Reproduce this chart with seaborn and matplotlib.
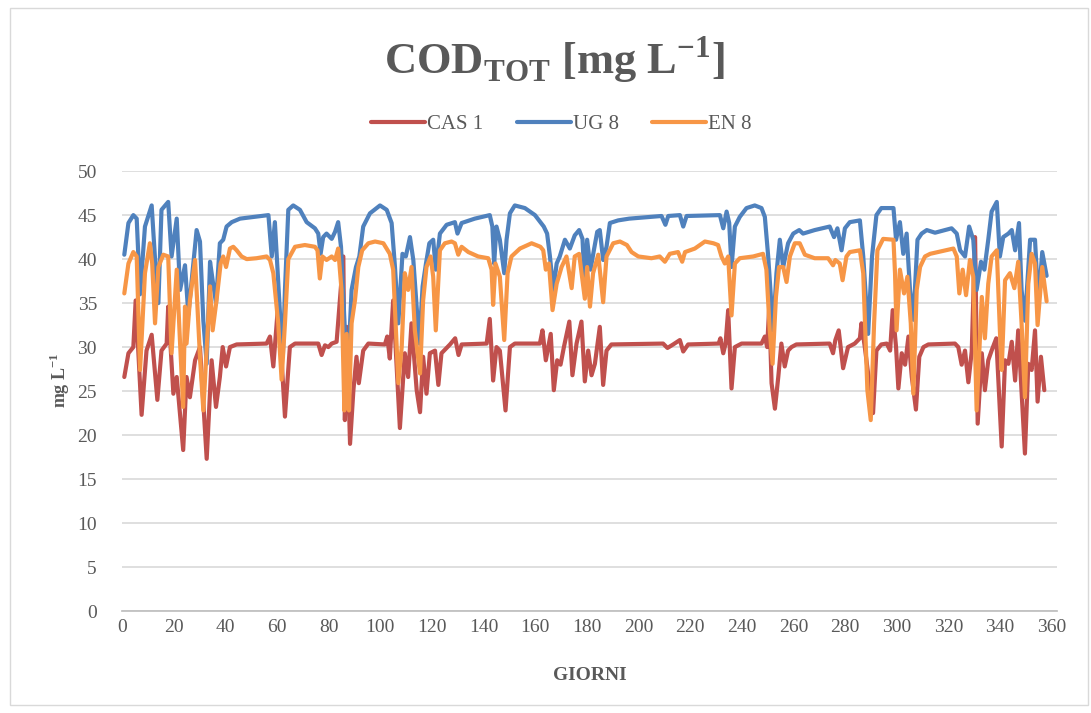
"""COD totale: CAS 1, UG 8, EN 8 nel corso dell'anno."""
import matplotlib

matplotlib.use("Agg")
import matplotlib.pyplot as plt
import pandas as pd
import seaborn as sns
from matplotlib.patches import Rectangle

# valori (giorno, mg/L)
cas1_giorni = [
    0.9, 2.5, 4.4, 5.3, 7.6, 9.5, 11.5, 13.7, 15.3, 17.3, 17.9, 19.9, 21.2, 23.7,
    25.0, 26.3, 28.3, 30.2, 32.8, 34.7, 36.4, 37.9, 39.0, 40.3, 41.8, 44.4, 56.0,
    57.3, 58.6, 60.5, 63.1, 65.0, 67.0, 76.0, 77.3, 78.6, 79.9, 81.2, 83.1, 85.7,
    86.3, 87.0, 88.3, 89.6, 90.8, 91.7, 93.4, 95.4, 101.8, 102.7, 103.7, 105.0,
    107.6, 109.5, 110.8, 112.1, 114.1, 115.4, 116.6, 117.9, 119.2, 121.2, 122.5,
    123.7, 127.0, 129.0, 130.3, 131.5, 141.2, 142.4, 143.7, 145.0, 146.3, 148.5,
    150.2, 152.1, 161.8, 162.8, 164.1, 166.0, 167.2, 168.5, 169.8, 171.1, 173.2,
    174.4, 176.0, 177.9, 179.2, 180.5, 181.8, 183.1, 185.0, 186.3, 187.6, 189.5,
    209.5, 211.2, 213.4, 216.0, 217.3, 219.2, 231.0, 231.7, 232.8, 233.7, 234.7,
    236.0, 237.3, 239.9, 247.6, 248.9, 249.8, 250.6, 251.5, 252.8, 254.1, 255.3,
    256.6, 257.9, 259.2, 261.1, 274.0, 275.3, 276.2, 277.5, 279.2, 281.1, 283.7,
    285.7, 286.3, 287.6, 290.8, 292.1, 294.0, 296.1, 297.4, 298.4, 299.7, 300.6,
    301.9, 303.2, 304.5, 305.8, 307.4, 308.7, 310.3, 312.2, 322.5, 323.8, 325.1,
    326.4, 327.7, 329.0, 330.3, 331.3, 332.9, 334.1, 335.4, 336.7, 338.5, 340.6,
    341.9, 343.2, 344.5, 345.8, 347.0, 349.6, 350.9, 352.2, 353.5, 354.5, 355.8,
    357.1,
]
cas1_valori = [
    26.6, 29.3, 30.0, 35.3, 22.3, 29.6, 31.4, 24.0, 29.6, 30.4, 34.6, 24.7, 26.6, 18.3,
    26.6, 24.3, 28.5, 30.0, 17.3, 28.5, 23.2, 26.6, 30.0, 27.8, 30.0, 30.3, 30.4,
    31.2, 27.8, 35.0, 22.1, 30.0, 30.4, 30.4, 29.1, 30.2, 30.0, 30.4, 30.6, 40.3,
    21.7, 32.3, 19.0, 25.1, 28.9, 25.9, 29.6, 30.4, 30.3, 31.2, 28.7, 35.3,
    20.8, 29.3, 26.6, 32.7, 25.1, 22.6, 28.9, 24.7, 29.3, 29.6, 25.7,
    29.3, 30.3, 31.0, 29.1, 30.3, 30.4, 33.2, 26.2, 30.0, 29.6, 22.8,
    30.0, 30.4, 30.4, 31.9, 28.5, 31.5, 25.1, 28.5, 28.0, 30.0, 32.9,
    26.8, 30.4, 32.9, 26.1, 29.6, 26.8, 28.1, 32.3, 25.7, 29.6, 30.3,
    30.4, 29.9, 30.3, 30.8, 29.5, 30.3, 30.4, 31.0, 29.3, 30.4, 34.2,
    25.3, 30.0, 30.4, 30.4, 31.2, 30.0, 34.6, 25.9, 23.0, 26.6, 30.4,
    27.8, 29.6, 30.0, 30.3, 30.4, 29.3, 30.8, 31.9, 27.6, 30.0, 30.4,
    31.0, 32.7, 30.0, 22.5, 29.6, 30.3, 30.4, 29.6, 34.2, 30.0, 25.3,
    29.3, 28.0, 31.2, 26.6, 22.9, 28.9, 30.0, 30.3, 30.4, 30.0, 28.0,
    29.6, 26.0, 29.5, 42.5, 21.3, 29.3, 25.1, 28.5, 29.6, 31.0, 18.7,
    28.5, 28.1, 30.6, 26.2, 31.9, 17.9, 28.1, 27.4, 31.9, 23.8, 28.9,
    25.1,
]

ug8_giorni = [
    0.9, 2.5, 4.4, 5.7, 7.0, 8.9, 11.5, 12.8, 14.1, 15.3, 17.9, 19.2, 21.2, 22.5,
    24.4, 25.7, 28.9, 30.2, 31.5, 32.8, 34.1, 35.1, 36.4, 37.9, 39.2, 40.5, 42.5,
    45.7, 56.7, 58.0, 59.2, 61.2, 62.3, 63.1, 64.4, 66.3, 68.9, 71.5, 74.7, 76.0,
    76.9, 77.9, 79.2, 81.2, 82.5, 83.7, 84.8, 86.3, 87.6, 88.9, 90.6, 91.9, 93.4,
    96.0, 99.9, 102.5, 104.4, 105.7, 107.0, 108.6, 109.9, 111.5, 112.8, 114.1,
    115.1, 116.4, 117.7, 119.0, 120.5, 121.5, 123.1, 125.7, 128.9, 129.9, 131.5,
    136.6, 142.4, 143.4, 144.1, 145.0, 146.3, 148.0, 148.9, 150.2, 152.1, 156.0,
    159.9, 162.0, 163.3, 164.6, 165.7, 167.0, 168.3, 169.5, 171.5, 173.4, 175.3,
    177.0, 178.3, 179.2, 180.1, 181.4, 182.7, 184.0, 185.0, 186.3, 187.6, 188.9,
    192.1, 196.4, 208.9, 210.4, 211.5, 216.0, 217.3, 218.6, 231.5, 232.8, 234.1,
    235.1, 236.0, 237.3, 239.2, 241.8, 245.0, 247.6, 248.9, 250.2, 252.1, 253.4,
    254.7, 256.0, 257.9, 259.9, 262.2, 263.7, 268.2, 274.0, 275.7, 277.0, 278.6,
    279.9, 281.8, 285.7, 287.0, 288.9, 290.4, 292.1, 294.0, 298.7, 299.7, 301.2,
    302.5, 303.8, 305.1, 306.4, 308.0, 309.6, 311.6, 314.8, 321.2, 323.2, 324.5,
    326.4, 328.0, 329.6, 330.9, 332.6, 333.9, 335.4, 336.7, 338.7, 339.9, 341.2,
    343.2, 344.5, 345.8, 347.3, 348.3, 349.6, 351.6, 353.5, 354.8, 356.3, 358.0,
]
ug8_valori = [
    40.5, 44.1, 45.0, 44.6, 36.0, 43.7, 46.1, 40.0, 35.0, 45.6, 46.5, 40.3, 44.6, 36.5,
    39.3, 33.7, 43.3, 42.0, 33.0, 28.1, 39.7, 37.6, 35.0, 41.8, 42.2, 43.7, 44.2,
    44.6, 45.0, 40.3, 44.2, 33.7, 29.0, 36.5, 45.6, 46.1, 45.6, 44.2, 43.5, 42.9,
    40.6, 42.5, 42.9, 42.3, 43.1, 44.2, 41.4, 31.9, 28.1, 36.5, 39.1, 40.3, 43.7,
    45.2, 46.1, 45.6, 44.1, 39.1, 32.7, 40.6, 40.3, 42.5, 39.9, 34.6,
    30.4, 36.9, 39.5, 41.8, 42.2, 38.8, 42.9, 43.9, 44.2, 42.9, 44.1,
    44.6, 45.0, 43.7, 39.5, 43.7, 42.2, 38.4, 42.2, 45.2, 46.1, 45.8,
    45.0, 44.2, 43.7, 42.9, 40.3, 36.5, 39.5, 40.3, 42.2, 41.2, 42.7,
    43.3, 42.3, 36.9, 42.2, 38.8, 41.0, 43.1, 43.3, 39.9, 41.4, 44.1,
    44.4, 44.6, 44.9, 43.9, 44.9, 45.0, 43.7, 44.9, 45.0, 43.5, 45.4,
    44.1, 39.1, 43.7, 44.8, 45.8, 46.1, 45.8, 44.8, 40.3, 31.9, 38.4,
    42.2, 39.1, 41.8, 42.9, 43.3, 42.9, 43.3, 43.7, 42.5, 43.5, 41.0,
    43.5, 44.2, 44.4, 40.3, 31.5, 40.3, 45.0, 45.8, 45.8, 42.2, 44.2,
    40.6, 42.9, 36.5, 33.1, 42.2, 42.9, 43.3, 43.0, 43.5, 42.9, 41.0,
    40.3, 43.7, 42.2, 36.5, 39.7, 38.8, 42.2, 45.4, 46.5, 40.3, 42.5,
    42.9, 43.3, 41.0, 44.1, 36.5, 33.0, 42.2, 42.2, 35.0, 40.8, 38.1,
]

en8_giorni = [
    0.9, 2.5, 4.4, 5.7, 7.0, 8.9, 10.8, 11.7, 12.8, 14.1, 16.0, 17.9, 19.2, 21.2,
    22.5, 23.7, 24.4, 25.0, 26.3, 28.3, 30.2, 31.5, 34.1, 35.1, 36.6, 38.2, 39.2,
    40.3, 41.8, 43.1, 44.4, 46.3, 48.3, 52.1, 56.0, 57.3, 58.6, 60.5, 61.8, 63.1,
    64.4, 67.0, 70.8, 74.7, 75.7, 76.6, 77.6, 79.2, 81.2, 82.5, 83.7, 85.0, 86.1,
    87.0, 87.9, 88.9, 90.2, 91.5, 93.0, 95.4, 98.0, 101.2, 103.7, 105.0, 107.0,
    108.3, 109.5, 110.8, 112.1, 113.4, 115.4, 116.6, 117.9, 119.5, 120.5, 121.5,
    123.1, 125.0, 127.6, 128.9, 130.2, 131.5, 134.1, 137.9, 141.8, 143.1, 143.7,
    144.6, 146.3, 148.0, 149.3, 150.8, 154.1, 158.6, 162.0, 163.1, 164.1, 165.3,
    166.7, 168.3, 170.2, 172.1, 174.1, 175.3, 177.0, 179.2, 180.1, 181.2, 182.4,
    184.4, 186.3, 187.6, 190.2, 192.8, 195.5, 197.3, 199.9, 205.0, 208.2, 210.2,
    212.1, 215.3, 216.9, 218.0, 221.8, 225.7, 229.0, 230.8, 232.1, 233.4, 234.7,
    236.0, 237.3, 239.2, 244.4, 248.2, 249.5, 250.8, 251.9, 253.2, 254.4, 256.0,
    257.3, 258.6, 260.5, 262.4, 264.4, 268.2, 273.4, 275.3, 276.2, 277.9, 279.0,
    280.5, 281.8, 285.7, 287.0, 288.6, 289.9, 291.2, 292.5, 294.7, 298.7, 299.3,
    299.9, 301.2, 302.8, 304.1, 305.4, 306.4, 307.7, 309.0, 310.9, 312.9, 321.9,
    323.2, 324.2, 325.5, 326.8, 328.3, 329.6, 330.9, 332.9, 334.1, 335.4, 336.7,
    338.7, 339.9, 340.6, 341.9, 343.8, 345.5, 347.0, 348.3, 349.6, 350.9, 352.2,
    353.5, 354.5, 356.3, 358.0,
]
en8_valori = [
    36.1, 39.5, 40.8, 40.3, 27.4, 38.4, 41.8, 39.5, 32.7, 39.1, 40.5, 40.3, 29.3, 38.8,
    30.4, 23.2, 34.6, 30.4, 35.3, 39.9, 28.9, 22.8, 36.9, 31.9, 35.3, 39.5, 40.3,
    39.1, 41.2, 41.4, 41.0, 40.3, 40.0, 40.1, 40.3, 39.9, 38.4, 32.7, 26.3, 32.7,
    40.0, 41.4, 41.6, 41.4, 41.0, 37.8, 40.3, 39.9, 40.3, 39.9, 41.2, 36.5, 22.8,
    31.5, 22.8, 32.7, 35.3, 39.1, 41.0, 41.8, 42.0, 41.8, 40.6, 38.8, 25.9,
    30.0, 38.4, 36.5, 39.1, 31.9, 27.0, 35.3, 39.1, 40.3, 38.0, 31.9,
    41.0, 41.8, 42.0, 41.8, 40.5, 41.4, 40.8, 40.3, 40.1, 38.8, 34.8,
    39.5, 38.0, 30.8, 38.4, 40.3, 41.2, 41.8, 41.4, 41.0, 38.8, 39.5,
    34.2, 37.2, 39.1, 40.3, 36.7, 40.3, 40.6, 35.5, 39.1, 34.6, 38.4,
    40.5, 35.1, 40.3, 41.8, 42.0, 41.6, 40.8, 40.3, 40.1, 40.3, 39.7,
    40.6, 40.8, 39.7, 40.8, 41.2, 42.0, 41.8, 41.6, 40.3, 39.5, 40.3,
    33.6, 39.5, 40.1, 40.3, 40.6, 38.8, 31.9, 28.1, 35.7, 39.1, 39.1,
    37.4, 40.3, 41.8, 41.8, 40.5, 40.1, 40.1, 39.3, 39.9, 39.5, 37.6,
    40.3, 40.8, 41.0, 38.4, 25.1, 21.7, 32.7, 41.0, 42.3, 42.2, 38.4,
    31.9, 38.8, 36.1, 38.0, 32.7, 24.7, 36.5, 39.1, 40.3, 40.6, 41.2,
    40.3, 36.1, 38.8, 35.9, 39.9, 38.0, 22.8, 35.7, 31.0, 37.2, 40.3,
    41.0, 31.9, 27.4, 37.6, 38.4, 36.7, 39.7, 32.7, 24.3, 37.2, 40.6,
    39.5, 32.5, 39.1, 35.2,
]

serie = ["CAS 1", "UG 8", "EN 8"]
colori = ["#C0504D", "#4F81BD", "#F79646"]
tick_x = list(range(0, 361, 20))
tick_y = list(range(0, 51, 5))

GRIGIO = "#595959"


def get_df():
    """Tabella lunga con le tre serie."""
    parti = []
    for nome, giorni, valori in zip(
        serie,
        [cas1_giorni, ug8_giorni, en8_giorni],
        [cas1_valori, ug8_valori, en8_valori],
    ):
        parti.append(pd.DataFrame({"giorno": giorni, "valore": valori, "serie": nome}))
    return pd.concat(parti, ignore_index=True)


def plot_cod():
    """Grafico COD tot."""
    sns.set_theme(style="white")
    plt.rcParams["font.family"] = ["Liberation Serif", "DejaVu Serif"]
    plt.rcParams["mathtext.fontset"] = "custom"
    plt.rcParams["mathtext.rm"] = "Liberation Serif"
    plt.rcParams["mathtext.bf"] = "Liberation Serif:bold"

    fig = plt.figure(figsize=(10.91, 7.13), dpi=100)
    ax = fig.add_axes([0.1118, 0.143, 0.857, 0.617])

    df = get_df()
    sns.lineplot(
        data=df, x="giorno", y="valore", hue="serie", hue_order=serie,
        palette=colori, estimator=None, sort=False, linewidth=3.0, ax=ax,
    )

    ax.set_xlim(0, 362)
    ax.set_ylim(0, 50)
    ax.set_xticks(tick_x)
    ax.set_yticks(tick_y)
    ax.tick_params(axis="both", labelsize=14, colors=GRIGIO, length=0)
    ax.tick_params(axis="y", pad=18)
    ax.tick_params(axis="x", pad=6)
    ax.yaxis.grid(True, color="#D9D9D9", linewidth=1.2)
    ax.xaxis.grid(False)
    for lato in ["left", "right", "top"]:
        ax.spines[lato].set_visible(False)
    ax.spines["bottom"].set_color("#BFBFBF")
    ax.set_xlabel("")
    ax.set_ylabel("")

    sns.move_legend(
        ax, "center", bbox_to_anchor=(0.47, 1.106), ncol=3, frameon=False,
        title=None, fontsize=15, handlelength=2.6, columnspacing=1.6,
        handletextpad=0.1,
    )
    for testo in ax.get_legend().get_texts():
        testo.set_color(GRIGIO)

    fig.text(
        0.508, 0.915, r"COD$_{\mathbf{TOT}}$ [mg L$^{\mathbf{-1}}$]",
        ha="center", va="center", fontsize=32, fontweight="bold", color=GRIGIO,
    )
    fig.text(
        0.055, 0.467, r"mg L$^{\mathbf{-1}}$", rotation=90, ha="center",
        va="center", fontsize=13, fontweight="bold", color=GRIGIO,
    )
    fig.text(
        0.541, 0.052, "GIORNI", ha="center", va="center", fontsize=14,
        fontweight="bold", color=GRIGIO,
    )
    fig.patches.append(
        Rectangle(
            (0.009, 0.011), 0.988, 0.978, transform=fig.transFigure,
            fill=False, edgecolor="#D9D9D9", linewidth=1,
        )
    )
    fig.savefig("out.png", dpi=100)
    plt.close(fig)


if __name__ == "__main__":
    plot_cod()
